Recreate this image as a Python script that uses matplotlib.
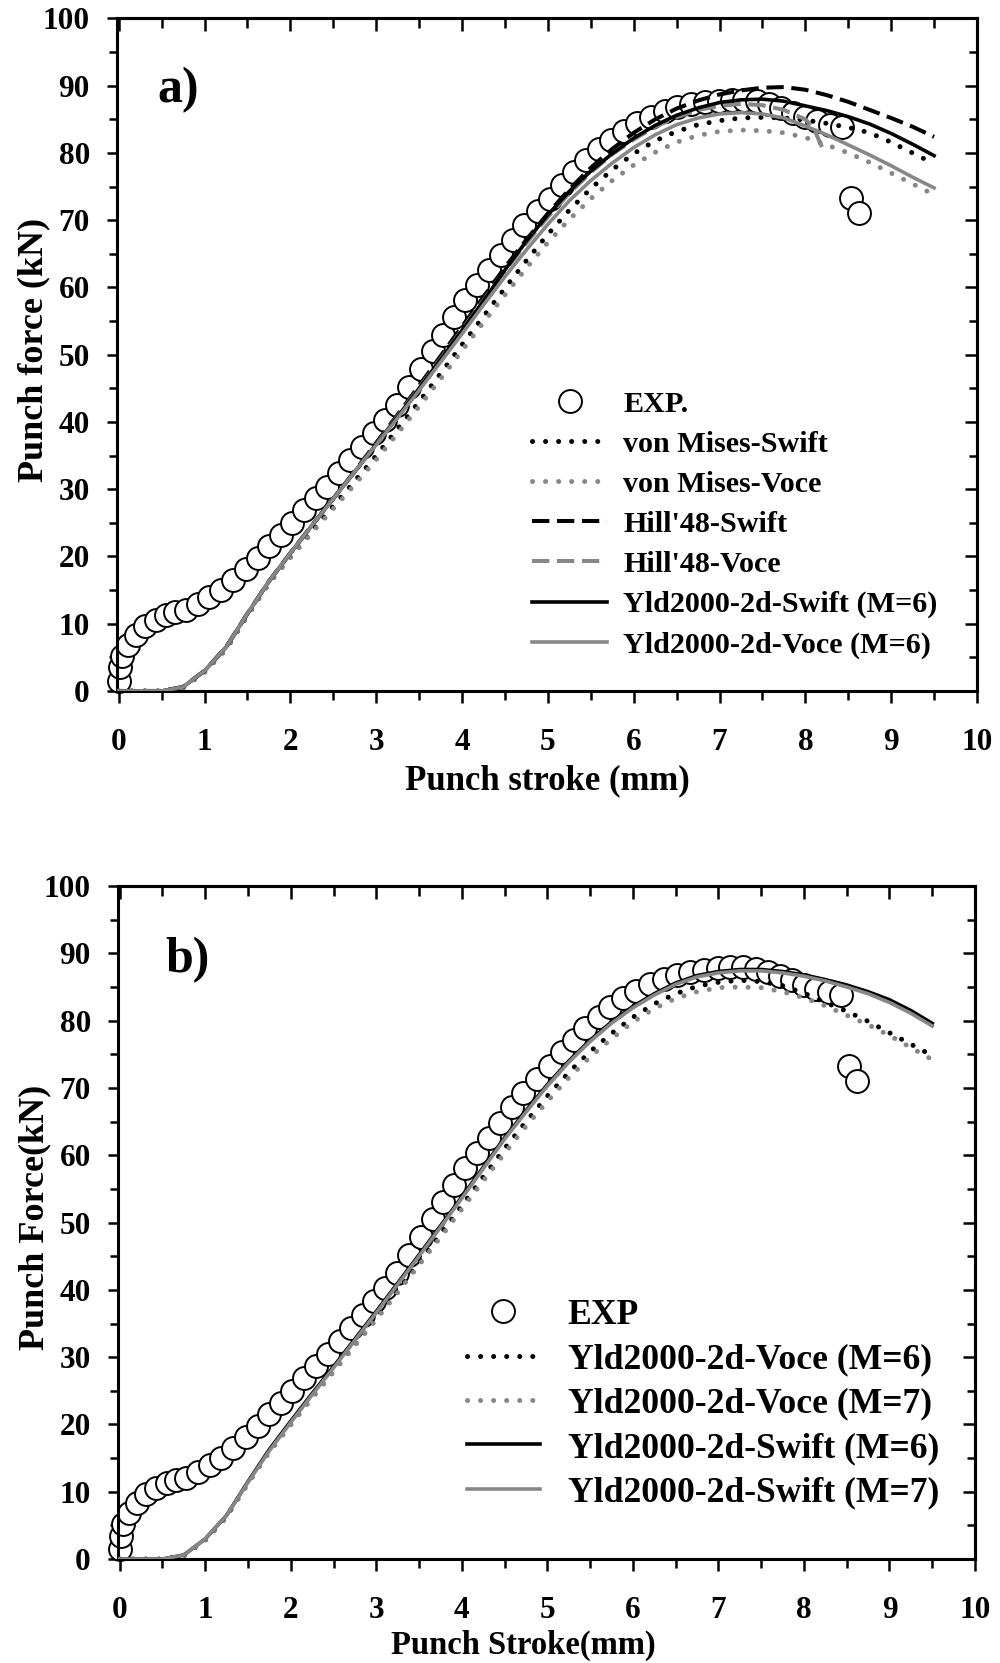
import matplotlib
matplotlib.use("Agg")
import matplotlib.pyplot as plt
from matplotlib.ticker import MultipleLocator

plt.rcParams['font.family'] = ['Liberation Serif', 'DejaVu Serif']
plt.rcParams['font.weight'] = 'bold'
plt.rcParams['axes.labelweight'] = 'bold'

# measured punch force (kN) vs punch stroke (mm)
exp_x = [0.00, 0.01, 0.04, 0.11, 0.20, 0.31, 0.43, 0.55, 0.66, 0.78, 0.92, 1.05,
         1.19, 1.33, 1.48, 1.62, 1.75, 1.89, 2.02, 2.16, 2.30, 2.43, 2.57, 2.70,
         2.84, 2.97, 3.10, 3.24, 3.38, 3.52, 3.66, 3.78, 3.91, 4.04, 4.18, 4.32,
         4.45, 4.59, 4.72, 4.88, 5.03, 5.17, 5.31, 5.44, 5.60, 5.73, 5.89, 6.04,
         6.20, 6.36, 6.51, 6.67, 6.83, 6.99, 7.14, 7.29, 7.44, 7.58, 7.72, 7.86,
         8.00, 8.14, 8.29, 8.43, 8.53, 8.62]
exp_y = [1.5, 3.5, 5.2, 6.8, 8.3, 9.6, 10.6, 11.3, 11.7, 12.1, 13.0, 14.0,
         15.0, 16.5, 18.1, 19.8, 21.5, 23.2, 25.0, 26.9, 28.7, 30.4, 32.4, 34.3,
         36.3, 38.3, 40.3, 42.5, 45.2, 47.9, 50.6, 53.0, 55.6, 58.1, 60.4, 62.6,
         64.8, 67.1, 69.3, 71.3, 73.2, 75.3, 77.1, 78.9, 80.6, 82.0, 83.3, 84.4,
         85.4, 86.2, 86.8, 87.3, 87.6, 87.8, 87.9, 87.9, 87.7, 87.3, 86.7, 86.0,
         85.3, 84.7, 84.2, 83.8, 73.3, 71.0]

# simulation output stroke positions
stroke = [0.0, 0.25, 0.5, 0.75, 1.0, 1.25, 1.5, 1.75, 2.0, 2.25, 2.5, 2.75,
          3.0, 3.25, 3.5, 3.75, 4.0, 4.25, 4.5, 4.75, 5.0, 5.25, 5.5, 5.75,
          6.0, 6.25, 6.5, 6.75, 7.0, 7.25, 7.5, 7.75, 8.0, 8.25, 8.5, 8.75,
          9.0, 9.25, 9.5]

# (a) yield criteria / hardening laws
vm_swift = [0, 0, 0, 0.5, 2.8, 6.2, 11.2, 16.0, 20.0, 23.8, 27.5, 31.2,
            35.0, 39.0, 43.0, 47.2, 51.5, 55.7, 59.9, 64.0, 67.9, 71.5, 74.7, 77.5,
            79.9, 81.8, 83.2, 84.2, 84.8, 85.2, 85.3, 85.2, 84.9, 84.4, 83.8, 83.0,
            81.6, 80.0, 78.4]
vm_voce = [0, 0, 0, 0.5, 2.8, 6.2, 11.2, 16.0, 19.8, 23.5, 27.1, 30.7,
           34.4, 38.3, 42.3, 46.4, 50.6, 54.8, 58.9, 62.9, 66.7, 70.1, 73.2, 75.9,
           78.2, 80.1, 81.6, 82.6, 83.2, 83.4, 83.3, 83.0, 82.3, 81.2, 80.0, 78.6,
           77.0, 75.4, 73.8]
hill_swift = [0, 0, 0, 0.6, 3.0, 6.5, 11.5, 16.3, 20.5, 24.6, 28.6, 32.7,
              36.9, 41.1, 45.4, 49.8, 54.2, 58.6, 63.0, 67.1, 71.0, 74.6, 77.8, 80.6,
              83.0, 85.0, 86.6, 87.8, 88.7, 89.3, 89.7, 89.8, 89.4, 88.6, 87.6, 86.4,
              85.2, 83.9, 82.4]
hill_voce_x = [0.0, 0.25, 0.5, 0.75, 1.0, 1.25, 1.5, 1.75, 2.0, 2.25, 2.5, 2.75,
               3.0, 3.25, 3.5, 3.75, 4.0, 4.25, 4.5, 4.75, 5.0, 5.25, 5.5, 5.75,
               6.0, 6.25, 6.5, 6.75, 7.0, 7.25, 7.5, 7.75, 8.0, 8.1, 8.2]
hill_voce = [0, 0, 0, 0.6, 3.0, 6.5, 11.5, 16.3, 20.5, 24.6, 28.6, 32.6,
             36.7, 40.9, 45.1, 49.4, 53.7, 58.1, 62.5, 66.6, 70.5, 74.0, 77.1, 79.8,
             82.0, 83.9, 85.3, 86.4, 87.0, 87.3, 87.1, 86.4, 85.0, 83.6, 80.7]
yld_swift_m6 = [0, 0, 0, 0.6, 3.0, 6.5, 11.5, 16.3, 20.5, 24.6, 28.6, 32.6,
                36.7, 40.8, 45.0, 49.3, 53.6, 58.0, 62.6, 66.9, 70.8, 74.3, 77.3, 79.9,
                82.2, 84.1, 85.6, 86.7, 87.5, 87.9, 88.0, 87.7, 87.0, 86.3, 85.4, 84.3,
                82.9, 81.3, 79.6]
yld_voce_m6 = [0, 0, 0, 0.6, 3.0, 6.5, 11.5, 16.3, 20.5, 24.6, 28.6, 32.6,
               36.6, 40.6, 44.7, 48.9, 53.1, 57.4, 61.6, 65.6, 69.4, 72.9, 75.9, 78.5,
               80.8, 82.7, 84.2, 85.2, 85.8, 86.0, 85.8, 85.2, 84.0, 82.7, 81.2, 79.7,
               78.1, 76.4, 74.8]

# (b) Yld2000-2d with exponent M = 6 and M = 7
b_voce_m6 = [0, 0, 0, 0.5, 2.8, 6.3, 11.3, 16.0, 20.1, 24.1, 28.0, 31.9,
             35.9, 40.0, 44.1, 48.3, 52.5, 56.8, 61.0, 65.0, 68.8, 72.3, 75.4, 78.1,
             80.5, 82.5, 84.0, 85.1, 85.7, 86.0, 85.8, 85.2, 84.1, 82.7, 81.4, 79.9,
             78.2, 76.5, 74.8]
b_voce_m7 = [0, 0, 0, 0.5, 2.8, 6.3, 11.2, 15.9, 19.9, 23.9, 27.8, 31.7,
             35.6, 39.6, 43.7, 47.8, 52.0, 56.2, 60.3, 64.3, 68.0, 71.5, 74.6, 77.3,
             79.8, 81.8, 83.3, 84.3, 84.9, 85.0, 84.9, 84.3, 83.4, 82.2, 80.8, 79.4,
             77.8, 76.0, 74.2]
b_swift_m6 = [0, 0, 0, 0.6, 3.0, 6.5, 11.5, 16.3, 20.5, 24.6, 28.6, 32.7,
              36.8, 41.0, 45.2, 49.5, 53.8, 58.2, 62.6, 66.6, 70.5, 74.0, 77.1, 79.8,
              82.1, 84.0, 85.6, 86.7, 87.3, 87.6, 87.6, 87.3, 86.8, 86.1, 85.3, 84.3,
              83.1, 81.5, 79.6]
b_swift_m7 = [0, 0, 0, 0.6, 3.0, 6.5, 11.4, 16.1, 20.3, 24.4, 28.4, 32.5,
              36.6, 40.8, 45.0, 49.3, 53.6, 58.0, 62.4, 66.4, 70.3, 73.8, 76.9, 79.6,
              81.9, 83.8, 85.4, 86.5, 87.1, 87.4, 87.4, 87.1, 86.6, 85.9, 85.0, 84.0,
              82.7, 81.1, 79.2]

GRAY = '#878787'
DOT = (0, (0.01, 2.6))
DASH = (0, (4.3, 1.9))
LW_DOT = 3.6
LW_DASH = 2.9
LW_SOLID = 2.6


def style_axes(ax):
    ax.set_xlim(-0.02, 10)
    ax.set_ylim(0, 100)
    for sp in ax.spines.values():
        sp.set_linewidth(2.2)
    ax.xaxis.set_major_locator(MultipleLocator(1))
    ax.xaxis.set_minor_locator(MultipleLocator(0.5))
    ax.yaxis.set_major_locator(MultipleLocator(10))
    ax.yaxis.set_minor_locator(MultipleLocator(5))
    ax.tick_params(axis='x', which='major', direction='out', length=8.6, width=1.8,
                   pad=18, labelsize=22.5)
    ax.tick_params(axis='x', which='minor', direction='out', length=6.5, width=1.8)
    ax.tick_params(axis='y', which='major', direction='out', length=7.5, width=1.8,
                   pad=12, labelsize=22.5)
    ax.tick_params(axis='y', which='minor', direction='out', length=5.8, width=1.8)
    # inward ticks on the top and right frame
    top = ax.secondary_xaxis('top')
    top.xaxis.set_major_locator(MultipleLocator(1))
    top.xaxis.set_minor_locator(MultipleLocator(0.5))
    top.tick_params(which='major', direction='in', length=9, width=1.8, labeltop=False)
    top.tick_params(which='minor', direction='in', length=7, width=1.8)
    top.spines['top'].set_linewidth(2.2)
    right = ax.secondary_yaxis('right')
    right.yaxis.set_major_locator(MultipleLocator(10))
    right.yaxis.set_minor_locator(MultipleLocator(5))
    right.tick_params(which='major', direction='in', length=9, width=1.8, labelright=False)
    right.tick_params(which='minor', direction='in', length=6, width=1.8)
    right.spines['right'].set_linewidth(2.2)


def plot_exp(ax, label):
    return ax.plot(exp_x, exp_y, 'o', ms=16.5, mfc='white', mec='black', mew=1.4,
                   zorder=2, clip_on=False, label=label)[0]


def dotted(ax, y, color, label):
    return ax.plot(stroke, y, color=color, lw=LW_DOT, ls=DOT, dash_capstyle='round',
                   zorder=3, label=label)[0]


fig = plt.figure(figsize=(10, 16.63), dpi=100)

# ---- (a)
ax = fig.add_axes([0.117, 0.5845, 0.860, 0.4044])
style_axes(ax)
h = [plot_exp(ax, 'EXP.')]
h.append(dotted(ax, vm_swift, 'black', 'von Mises-Swift'))
h.append(dotted(ax, vm_voce, GRAY, 'von Mises-Voce'))
h += ax.plot(stroke, hill_swift, color='black', lw=LW_DASH, ls=DASH, zorder=3,
             label="Hill'48-Swift")
h += ax.plot(hill_voce_x, hill_voce, color=GRAY, lw=LW_DASH, ls=DASH, zorder=3,
             label="Hill'48-Voce")
h += ax.plot(stroke, yld_swift_m6, color='black', lw=LW_SOLID, zorder=3,
             label='Yld2000-2d-Swift (M=6)')
h += ax.plot(stroke, yld_voce_m6, color=GRAY, lw=LW_SOLID, zorder=3,
             label='Yld2000-2d-Voce (M=6)')
ax.legend(handles=h, loc='upper left', bbox_to_anchor=(0.4826, 0.4465), frameon=False,
          fontsize=21.7, handlelength=2.5, handletextpad=0.53, labelspacing=0.43,
          borderpad=0, borderaxespad=0, numpoints=1)
ax.text(0.047, 0.894, 'a)', transform=ax.transAxes, fontsize=36, va='center', ha='left')
ax.set_xlabel('Punch stroke (mm)', fontsize=25, labelpad=5)
ax.set_ylabel('Punch force (kN)', fontsize=26)
ax.yaxis.set_label_coords(-0.077, 0.507)

# ---- (b)
bx = fig.add_axes([0.118, 0.0625, 0.857, 0.4047])
style_axes(bx)
h = [plot_exp(bx, 'EXP')]
h.append(dotted(bx, b_voce_m6, 'black', 'Yld2000-2d-Voce (M=6)'))
h.append(dotted(bx, b_voce_m7, GRAY, 'Yld2000-2d-Voce (M=7)'))
h += bx.plot(stroke, b_swift_m6, color='black', lw=LW_SOLID, zorder=3,
             label='Yld2000-2d-Swift (M=6)')
h += bx.plot(stroke, b_swift_m7, color=GRAY, lw=LW_SOLID, zorder=3,
             label='Yld2000-2d-Swift (M=7)')
bx.legend(handles=h, loc='upper left', bbox_to_anchor=(0.407, 0.387), frameon=False,
          fontsize=25.7, handlelength=2.05, handletextpad=0.78, labelspacing=0.32,
          borderpad=0, borderaxespad=0, numpoints=1)
bx.text(0.055, 0.89, 'b)', transform=bx.transAxes, fontsize=36, va='center', ha='left')
bx.set_xlabel('Punch Stroke(mm)', fontsize=23.5)
bx.xaxis.set_label_coords(0.4726, -0.105)
bx.set_ylabel('Punch Force(kN)', fontsize=26)
bx.yaxis.set_label_coords(-0.078, 0.507)

fig.savefig('out.png', dpi=100)
